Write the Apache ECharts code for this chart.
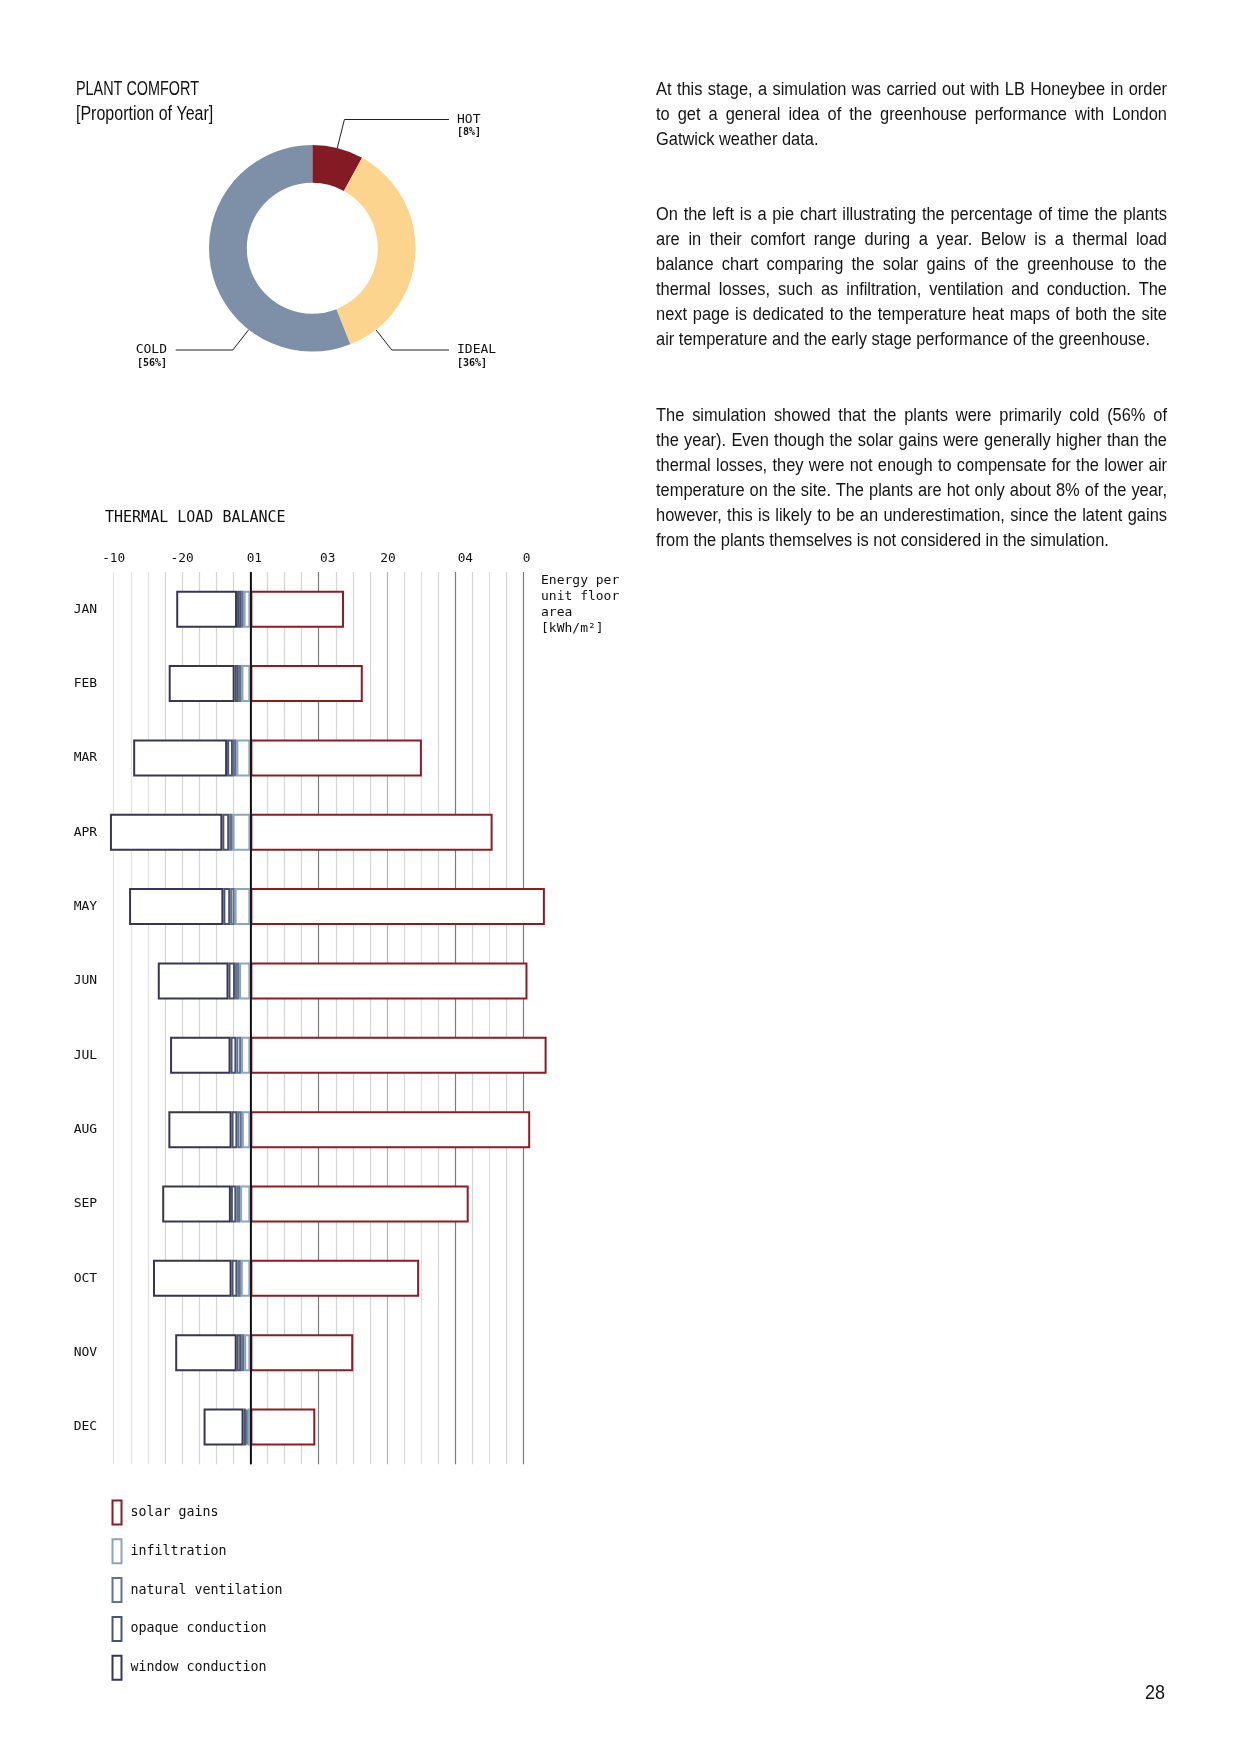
<!DOCTYPE html>
<html>
<head>
<meta charset="utf-8">
<script src="https://cdn.jsdelivr.net/npm/echarts@6/dist/echarts.min.js"></script>
<style>
  html, body { margin: 0; padding: 0; background: #fff; }
  #page { position: relative; width: 1240px; height: 1754px; overflow: hidden; }
  #chart { position: absolute; left: 0; top: 0; width: 1240px; height: 1754px; }
  .prose { position: absolute; left: 656px; top: 76.5px; width: 560px; color: #151515;
           font-family: "Liberation Sans", Arial, sans-serif;
           font-size: 18px; line-height: 25.1px;
           transform: scaleX(0.9125); transform-origin: 0 0; }
  .prose p { margin: 0 0 50.2px 0; }
  .prose .l { display: block; white-space: nowrap; text-align: justify; text-align-last: justify; }
  .prose .e { display: block; white-space: nowrap; text-align: left; text-align-last: left; }
  #pageno { position: absolute; left: 1145px; top: 1681px; font-family: "Liberation Sans", Arial, sans-serif;
            font-size: 20px; color: #151515; transform: scaleX(0.9); transform-origin: 0 0; }
</style>
</head>
<body>
<div id="page">
  <div id="chart"></div>
  <div class="prose">
    <p>
      <span class="l">At this stage, a simulation was carried out with LB Honeybee in order</span>
      <span class="l">to get a general idea of the greenhouse performance with London</span>
      <span class="e">Gatwick weather data.</span>
    </p>
    <p>
      <span class="l">On the left is a pie chart illustrating the percentage of time the plants</span>
      <span class="l">are in their comfort range during a year. Below is a thermal load</span>
      <span class="l">balance chart comparing the solar gains of the greenhouse to the</span>
      <span class="l">thermal losses, such as infiltration, ventilation and conduction. The</span>
      <span class="l">next page is dedicated to the temperature heat maps of both the site</span>
      <span class="e">air temperature and the early stage performance of the greenhouse.</span>
    </p>
    <p>
      <span class="l">The simulation showed that the plants were primarily cold (56% of</span>
      <span class="l">the year). Even though the solar gains were generally higher than the</span>
      <span class="l">thermal losses, they were not enough to compensate for the lower air</span>
      <span class="l">temperature on the site. The plants are hot only about 8% of the year,</span>
      <span class="l">however, this is likely to be an underestimation, since the latent gains</span>
      <span class="e">from the plants themselves is not considered in the simulation.</span>
    </p>
  </div>
  <div id="pageno">28</div>
</div>
<script>
// ---------- data ----------
const comfortNames = ['HOT', 'IDEAL', 'COLD'];
const comfortShares = [8, 36, 56];

const months = ['JAN', 'FEB', 'MAR', 'APR', 'MAY', 'JUN', 'JUL', 'AUG', 'SEP', 'OCT', 'NOV', 'DEC'];
const solarGains         = [27.4, 32.9, 50.2, 70.9, 86.2, 81.1, 86.7, 81.9, 63.9, 49.4, 30.1, 19.0];
const infiltration       = [-2.0, -2.6, -4.1, -5.2, -4.6, -3.3, -2.7, -2.5, -3.0, -2.8, -1.8, -0.8];
const naturalVentilation = [-0.7, -0.8, -1.0, -1.0, -1.3, -1.2, -1.4, -1.3, -1.1, -1.0, -0.9, -0.5];
const opaqueConduction   = [-1.2, -1.2, -1.7, -2.0, -2.0, -1.9, -1.7, -1.7, -1.6, -1.7, -1.3, -0.7];
const windowConduction   = [-17.8, -19.3, -27.5, -32.9, -27.6, -20.7, -17.7, -18.5, -20.1, -23.0, -18.0, -11.7];

const tickValues = [-40, -20, 0, 20, 40, 60, 80];
const tickLabels = ['-10', '-20', '01', '03', '20', '04', '0'];

// ---------- styles / layout ----------
const MONO = '"DejaVu Sans Mono", monospace';
const SANS = '"Liberation Sans", Arial, sans-serif';
const pieCenter = [312.3, 248.3];
const pieRadius = [65.5, 103.3];
const pieColors = ['#831a24', '#fdd48e', '#7d90a8'];
const pieLabelLayout = [
  { angle: 14,  y: 119.5, lineEndX: 449,   textX: 457, align: 'left' },
  { angle: 142, y: 350,   lineEndX: 449,   textX: 457, align: 'left' },
  { angle: 218, y: 350,   lineEndX: 175.7, textX: 167, align: 'right' }
];
const seriesColors = {
  'solar gains': '#8b1c25',
  'infiltration': '#8fa3bb',
  'natural ventilation': '#5f7291',
  'opaque conduction': '#4a5471',
  'window conduction': '#393651'
};
// split line colours by tick (-40 .. 80 step 5)
const gridColors = ['#e3e3e3', '#e3e3e3', '#e0e0e0', '#d4d4d4', '#d4d4d4', '#d4d4d4', '#d4d4d4', '#d4d4d4',
  '#111111', '#d4d4d4', '#d4d4d4', '#d4d4d4', '#7c7c7c', '#d4d4d4', '#d4d4d4', '#d4d4d4',
  '#b3b3b3', '#d8d8d8', '#e0e0e0', '#d4d4d4', '#7c7c7c', '#d4d4d4', '#dedede', '#d4d4d4', '#7c7c7c'];
const tickPad = { '-40': 0, '-20': 0, '0': 8, '20': 18, '40': 2, '60': 20, '80': 6 };

const chart = echarts.init(document.getElementById('chart'), null, { renderer: 'canvas' });

function barSeries(name, data) {
  return {
    name: name, type: 'bar', stack: 'load', data: data, barWidth: 37, clip: false,
    itemStyle: { color: '#ffffff', borderColor: seriesColors[name], borderWidth: 2 },
    emphasis: { disabled: true }
  };
}

const tickRich = {};
tickValues.forEach(function (v, i) {
  tickRich['t' + i] = { fontFamily: MONO, fontSize: 12.8, color: '#111', padding: [0, 0, 0, tickPad[String(v)]] };
});

const bars = [
  barSeries('solar gains', solarGains),
  barSeries('infiltration', infiltration),
  barSeries('natural ventilation', naturalVentilation),
  barSeries('opaque conduction', opaqueConduction),
  barSeries('window conduction', windowConduction)
];
bars[0].markLine = {
  silent: true, symbol: 'none', label: { show: false },
  lineStyle: { color: '#111', width: 1.8, type: 'solid' },
  data: [{ xAxis: 0 }]
};

const option = {
  animation: false,
  backgroundColor: '#ffffff',
  graphic: [
    { type: 'text', left: 76, top: 79, scaleX: 0.72, style: { text: 'PLANT COMFORT', font: '20px ' + SANS, fill: '#111' } },
    { type: 'text', left: 76, top: 104, scaleX: 0.8, style: { text: '[Proportion of Year]', font: '20px ' + SANS, fill: '#111' } },
    { type: 'text', left: 105, top: 510.5, style: { text: 'THERMAL LOAD BALANCE', font: '15px ' + MONO, fill: '#111' } },
    { type: 'text', left: 541, top: 573, style: { text: 'Energy per\nunit floor\narea\n[kWh/m²]', font: '13px ' + MONO, lineHeight: 16, fill: '#111' } }
  ],
  legend: {
    data: ['solar gains', 'infiltration', 'natural ventilation', 'opaque conduction', 'window conduction'],
    orient: 'vertical', left: 111.5, top: 1499.5, padding: 0,
    itemWidth: 9, itemHeight: 24, itemGap: 12.8, icon: 'rect', selectedMode: false,
    textStyle: { fontFamily: MONO, fontSize: 13.3, color: '#111', padding: [0, 0, 0, 4] }
  },
  grid: { left: 113.7, right: 716.3, top: 572, bottom: 289.8, containLabel: false },
  xAxis: {
    type: 'value', position: 'top', min: -40, max: 80, interval: 5,
    axisLine: { show: false }, axisTick: { show: false },
    axisLabel: {
      margin: 7, rich: tickRich,
      formatter: function (v) {
        const i = tickValues.indexOf(v);
        return i < 0 ? '' : '{t' + i + '|' + tickLabels[i] + '}';
      }
    },
    splitLine: { show: true, lineStyle: { color: gridColors, width: 1.2 } }
  },
  yAxis: {
    type: 'category', data: months, inverse: true,
    axisLine: { show: false }, axisTick: { show: false }, splitLine: { show: false },
    axisLabel: { margin: 16.5, fontFamily: MONO, fontSize: 13, color: '#111' }
  },
  series: bars.concat([{
    type: 'pie', center: pieCenter, radius: pieRadius, startAngle: 90, clockwise: true,
    silent: true,
    data: comfortNames.map(function (n, i) { return { name: n, value: comfortShares[i], itemStyle: { color: pieColors[i] } }; }),
    label: {
      show: true, position: 'outside',
      formatter: '{n|{b}}\n{p|[{c}%]}',
      rich: {
        n: { fontFamily: MONO, fontSize: 13, lineHeight: 14, color: '#111' },
        p: { fontFamily: MONO, fontSize: 10, fontWeight: 'bold', lineHeight: 12, color: '#111' }
      }
    },
    labelLine: { show: true, lineStyle: { color: '#222', width: 1 } },
    labelLayout: function (p) {
      const L = pieLabelLayout[p.dataIndex];
      const a = L.angle * Math.PI / 180;
      const cx = pieCenter[0], cy = pieCenter[1], R = pieRadius[1];
      const sx = cx + R * Math.sin(a), sy = cy - R * Math.cos(a);
      const re = (cy - L.y) / Math.cos(a);
      const ex = cx + re * Math.sin(a);
      return {
        x: L.textX, y: L.y - 7, align: L.align, verticalAlign: 'top',
        labelLinePoints: [[sx, sy], [ex, L.y], [L.lineEndX, L.y]]
      };
    }
  }])
};
chart.setOption(option);
</script>
</body>
</html>
